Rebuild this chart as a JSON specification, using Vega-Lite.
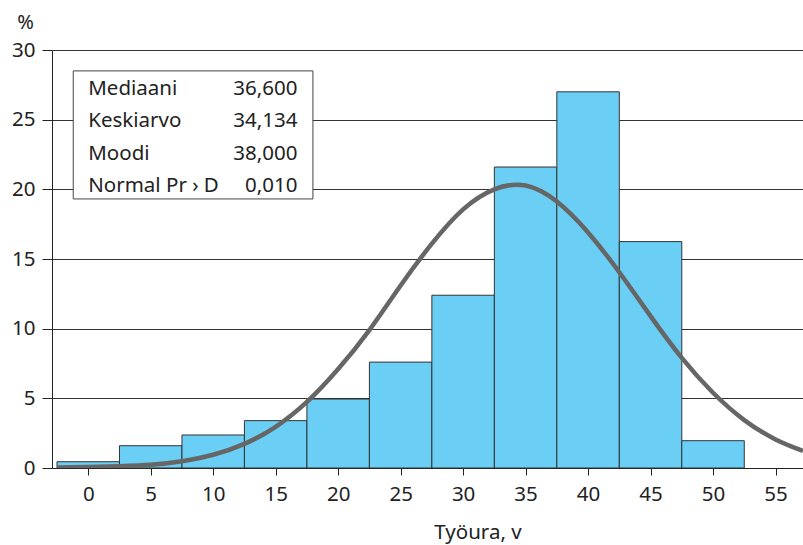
{
  "$schema": "https://vega.github.io/schema/vega-lite/v6.json",
  "width": 751,
  "height": 418,
  "autosize": "none",
  "padding": {"left": 52, "top": 50, "right": 0, "bottom": 77},
  "background": "white",
  "config": {"view": {"stroke": null}, "font": "Noto Sans"},
  "datasets": {
    "bars": [
      {"start": -2.5, "end": 2.5, "pct": 0.45},
      {"start": 2.5, "end": 7.5, "pct": 1.6},
      {"start": 7.5, "end": 12.5, "pct": 2.37},
      {"start": 12.5, "end": 17.5, "pct": 3.4},
      {"start": 17.5, "end": 22.5, "pct": 4.95},
      {"start": 22.5, "end": 27.5, "pct": 7.6},
      {"start": 27.5, "end": 32.5, "pct": 12.4},
      {"start": 32.5, "end": 37.5, "pct": 21.6},
      {"start": 37.5, "end": 42.5, "pct": 27.0},
      {"start": 42.5, "end": 47.5, "pct": 16.25},
      {"start": 47.5, "end": 52.5, "pct": 1.96}
    ],
    "curve": [
      {"x": -2.5, "pct": 0.04},
      {"x": 0, "pct": 0.07},
      {"x": 2.5, "pct": 0.13},
      {"x": 5, "pct": 0.23},
      {"x": 7.5, "pct": 0.49},
      {"x": 10, "pct": 0.95},
      {"x": 12.5, "pct": 1.73},
      {"x": 15, "pct": 2.96},
      {"x": 17.5, "pct": 4.74},
      {"x": 20, "pct": 7.1},
      {"x": 22.5, "pct": 9.9},
      {"x": 25, "pct": 13.1},
      {"x": 27.5, "pct": 16.1},
      {"x": 30, "pct": 18.56},
      {"x": 32.5, "pct": 20.0},
      {"x": 35, "pct": 20.27},
      {"x": 37.5, "pct": 19.12},
      {"x": 40, "pct": 16.9},
      {"x": 42.5, "pct": 14.05},
      {"x": 45, "pct": 10.9},
      {"x": 47.5, "pct": 7.9},
      {"x": 50, "pct": 5.4},
      {"x": 52.5, "pct": 3.44},
      {"x": 55, "pct": 2.05},
      {"x": 57.2, "pct": 1.23}
    ],
    "stats": [
      {"label": "Mediaani", "value": "36,600", "row": 26.78},
      {"label": "Keskiarvo", "value": "34,134", "row": 24.46},
      {"label": "Moodi", "value": "38,000", "row": 22.11},
      {"label": "Normal Pr › D", "value": "0,010", "row": 19.79}
    ]
  },
  "layer": [
    {
      "data": {"name": "bars"},
      "mark": {"type": "rect", "fill": "#6BCEF5", "stroke": "#333333", "strokeWidth": 1},
      "encoding": {
        "x": {
          "field": "start", "type": "quantitative", "title": "Työura, v",
          "scale": {"domain": [-2.9, 57.2], "nice": false, "zero": false},
          "axis": {
            "values": [0, 5, 10, 15, 20, 25, 30, 35, 40, 45, 50, 55],
            "grid": false, "tickSize": 7, "tickColor": "#222222", "domainColor": "#222222",
            "labelFontSize": 20.5, "labelColor": "#222222", "labelPadding": 9,
            "titleFontSize": 20.5, "titleFontWeight": "normal", "titleColor": "#222222",
            "titleX": 425.5, "titleY": 70, "titleAlign": "center", "titleBaseline": "alphabetic"
          }
        },
        "x2": {"field": "end"},
        "y": {
          "field": "pct", "type": "quantitative", "title": "%",
          "scale": {"domain": [0, 30], "nice": false},
          "axis": {
            "values": [0, 5, 10, 15, 20, 25, 30],
            "grid": true, "gridColor": "#333333", "gridWidth": 1,
            "tickSize": 10, "tickColor": "#222222", "domainColor": "#222222",
            "labelFontSize": 20.5, "labelColor": "#222222", "labelPadding": 7,
            "titleFontSize": 20, "titleFontWeight": "normal", "titleColor": "#222222",
            "titleAngle": 0, "titleX": -27, "titleY": -22, "titleAlign": "center", "titleBaseline": "alphabetic"
          }
        },
        "y2": {"datum": 0}
      }
    },
    {
      "data": {"name": "curve"},
      "mark": {"type": "line", "color": "#666666", "strokeWidth": 4.5, "interpolate": "natural", "clip": true},
      "encoding": {
        "x": {"field": "x", "type": "quantitative", "title": "Työura, v"},
        "y": {"field": "pct", "type": "quantitative", "title": "%"}
      }
    },
    {
      "data": {"values": [{}]},
      "mark": {"type": "rect", "fill": "white", "stroke": "#444444", "strokeWidth": 1},
      "encoding": {
        "x": {"datum": -1.2, "type": "quantitative"},
        "x2": {"datum": 17.98},
        "y": {"datum": 28.5, "type": "quantitative"},
        "y2": {"datum": 19.31}
      }
    },
    {
      "data": {"name": "stats"},
      "mark": {"type": "text", "align": "left", "baseline": "alphabetic", "fontSize": 20.5, "color": "#222222"},
      "encoding": {
        "x": {"datum": 0, "type": "quantitative"},
        "y": {"field": "row", "type": "quantitative", "title": "%"},
        "text": {"field": "label"}
      }
    },
    {
      "data": {"name": "stats"},
      "mark": {"type": "text", "align": "right", "baseline": "alphabetic", "fontSize": 20.5, "color": "#222222"},
      "encoding": {
        "x": {"datum": 16.74, "type": "quantitative"},
        "y": {"field": "row", "type": "quantitative", "title": "%"},
        "text": {"field": "value"}
      }
    }
  ]
}
